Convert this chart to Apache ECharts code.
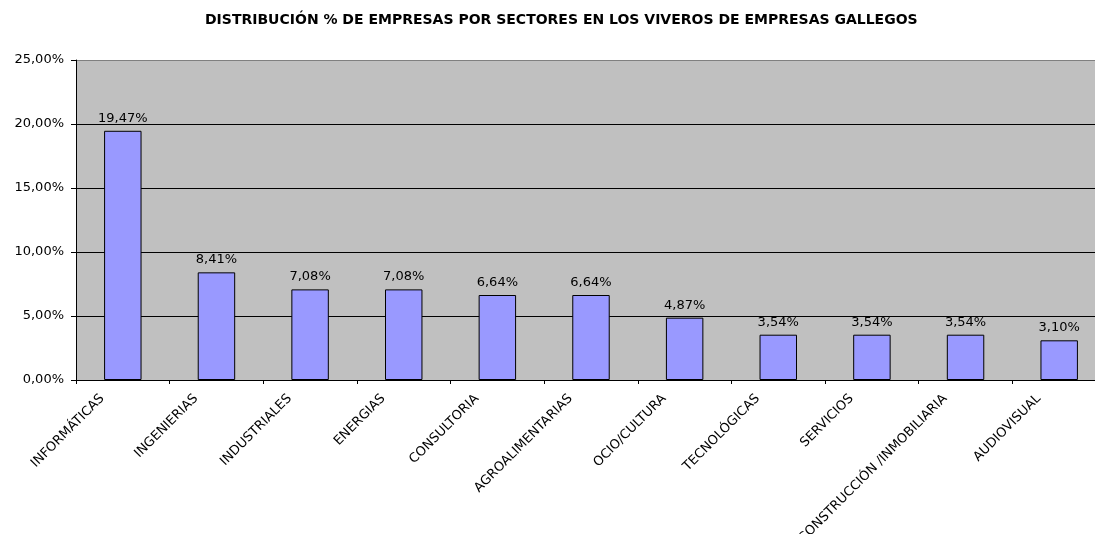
<!DOCTYPE html>
<html>
<head>
<meta charset="utf-8">
<script src="https://cdn.jsdelivr.net/npm/echarts@6/dist/echarts.min.js"></script>
<style>
  html, body { margin: 0; padding: 0; background: #fff; }
  #chart { width: 1095px; height: 534px; }
</style>
</head>
<body>
<div id="chart"></div>
<script>
const sectores = [
  "INFORMÁTICAS", "INGENIERIAS", "INDUSTRIALES", "ENERGIAS", "CONSULTORIA",
  "AGROALIMENTARIAS", "OCIO/CULTURA", "TECNOLÓGICAS", "SERVICIOS",
  "CONSTRUCCIÓN /INMOBILIARIA", "AUDIOVISUAL"
];
const porcentajes = [19.47, 8.41, 7.08, 7.08, 6.64, 6.64, 4.87, 3.54, 3.54, 3.54, 3.10];

const fmt = (v) => v.toFixed(2).replace(".", ",") + "%";

const chart = echarts.init(document.getElementById("chart"));

const options = {
  animation: false,
  textStyle: { fontFamily: "DejaVu Sans, sans-serif", color: "#000" },
  title: {
    text: "DISTRIBUCIÓN % DE EMPRESAS POR SECTORES EN LOS VIVEROS DE EMPRESAS GALLEGOS",
    left: 200,
    top: 8,
    textStyle: { fontSize: 14, fontWeight: "bold", color: "#000", fontFamily: "DejaVu Sans, sans-serif" },
  },
  grid: {
    left: 76,
    top: 60,
    width: 1030,
    height: 320,
    show: true,
    backgroundColor: "#C0C0C0",
    borderWidth: 0,
    outerBoundsMode: "none",
    containLabel: false,
  },
  xAxis: {
    type: "category",
    data: sectores,
    axisLine: { show: true, lineStyle: { color: "#000", width: 1 } },
    axisTick: { show: true, length: 4, lineStyle: { color: "#000" } },
    axisLabel: {
      rotate: 45,
      interval: 0,
      fontSize: 13,
      color: "#000",
      margin: -4,
      padding: [0, 29, 0, 0],
    },
    splitLine: { show: false },
  },
  yAxis: {
    type: "value",
    min: 0,
    max: 25,
    interval: 5,
    axisLine: { show: true, lineStyle: { color: "#000", width: 1 } },
    axisTick: { show: true, length: 5, lineStyle: { color: "#000" } },
    axisLabel: {
      formatter: (v) => fmt(v),
      fontSize: 13,
      color: "#000",
      margin: 12,
    },
    splitLine: {
      show: true,
      lineStyle: { color: ["#000", "#000", "#000", "#000", "#000", "#808080"], width: 1 },
    },
  },
  series: [
    {
      type: "bar",
      data: porcentajes,
      barWidth: "40%",
      itemStyle: { color: "#9999FF", borderColor: "#000", borderWidth: 1 },
      label: {
        show: true,
        position: "top",
        distance: 6,
        formatter: (p) => fmt(p.value),
        fontSize: 13,
        color: "#000",
      },
    },
  ],
};

chart.setOption(options);
</script>
</body>
</html>
